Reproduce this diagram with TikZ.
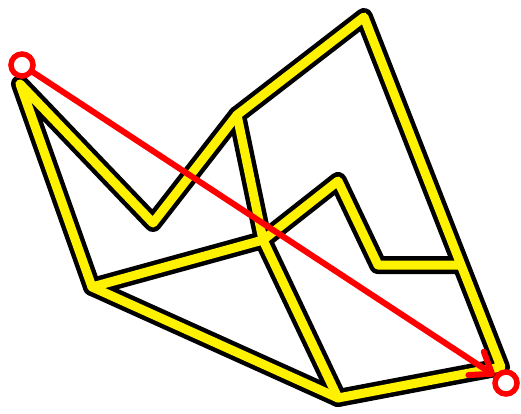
\documentclass[tikz,border=0pt]{standalone}
\usetikzlibrary{arrows.meta}
\begin{document}
\begin{tikzpicture}[x=1pt,y=-1pt,
  edgeblack/.style={draw=black,line width=18pt,line join=round,line cap=round},
  edgeyellow/.style={draw=yellow,line width=9pt,line join=round,line cap=round},
  endcircle/.style={circle,draw=red,line width=5.5pt,fill=white,minimum size=22pt,inner sep=0pt},
  redarrow/.style={draw=red,line width=6pt,line cap=round,-{Straight Barb[length=19pt,width=28pt,round]}}]
\useasboundingbox (0,0) rectangle (521,413);
\coordinate (A) at (20,84);
\coordinate (B) at (92,287);
\coordinate (C) at (153,223);
\coordinate (D) at (237,115);
\coordinate (E) at (364,17);
\coordinate (F) at (263,240);
\coordinate (G) at (338,181);
\coordinate (H) at (378,265);
\coordinate (I) at (460,265);
\coordinate (J) at (501,367);
\coordinate (K) at (338,398);
\foreach \s in {edgeblack,edgeyellow}{
  \draw[\s] (A) -- (B) -- (K) -- (J) -- (E) -- (D) -- (C) -- cycle;
  \draw[\s] (D) -- (F) -- (K);
  \draw[\s] (B) -- (F) -- (G) -- (H) -- (I);
}
\node[endcircle] (S) at (22,65) {};
\node[endcircle] (T) at (506,383) {};
\draw[redarrow] (S) -- (T);
\end{tikzpicture}
\end{document}
